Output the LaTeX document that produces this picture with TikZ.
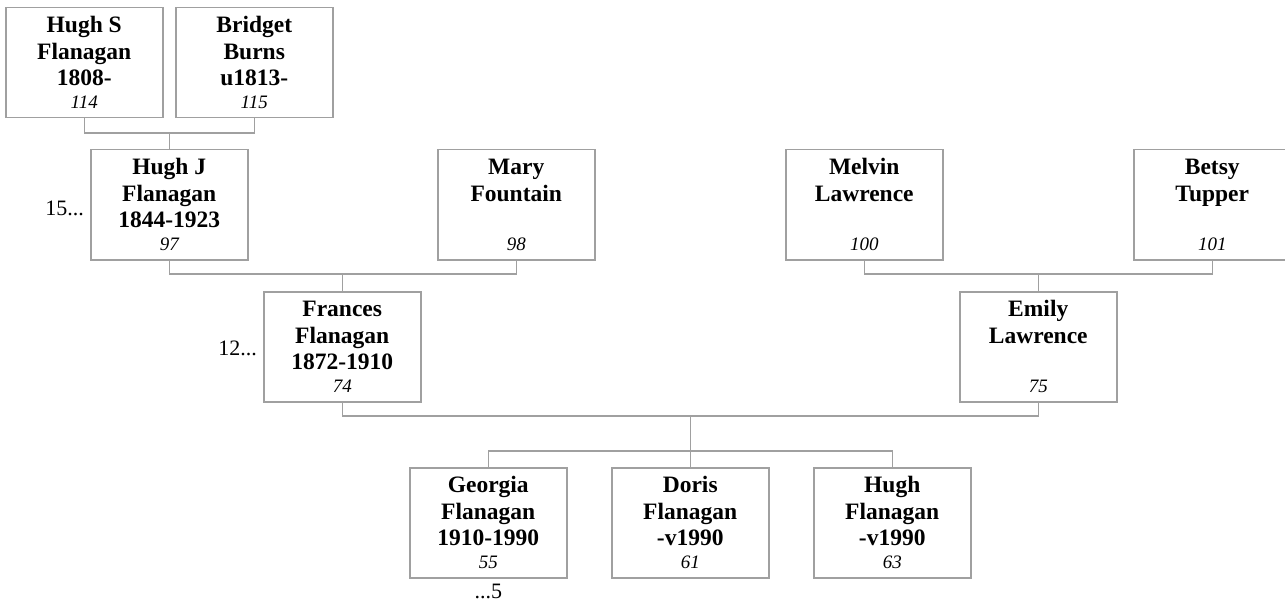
\documentclass[tikz,border=0pt]{standalone}
\usepackage{fontspec}
\setmainfont{Liberation Serif}
\definecolor{lc}{RGB}{160,160,160}
\tikzset{
  person/.style={draw=lc, line width=1.5pt, minimum width=157pt, minimum height=110pt,
    inner sep=0pt, align=center, anchor=north west,
    font=\fontsize{23.5}{26.5}\selectfont\bfseries},
  link/.style={draw=lc, line width=1.5pt},
  side/.style={font=\fontsize{22}{26}\selectfont, inner sep=0pt},
}
\newcommand{\pinfo}[4]{\rule{0pt}{18pt}#1\\#2\\#3\\[-3.5pt]{\fontsize{19}{23}\selectfont\mdseries\itshape #4}\rule[-2pt]{0pt}{2pt}}
\begin{document}
\begin{tikzpicture}[x=1pt,y=-1pt]
\useasboundingbox (0,0) rectangle (1285,604);
\clip (0,0) rectangle (1285,604);
% people
\node[person] (hs) at (5,7) {\pinfo{Hugh S}{Flanagan}{1808-}{114}};
\node[person] (bb) at (175,7) {\pinfo{Bridget}{Burns}{u1813-}{115}};
\node[person] (hj) at (90,149) {\pinfo{Hugh J}{Flanagan}{1844-1923}{97}};
\node[person] (mf) at (437,149) {\pinfo{Mary}{Fountain}{}{98}};
\node[person] (ml) at (785,149) {\pinfo{Melvin}{Lawrence}{}{100}};
\node[person] (bt) at (1133,149) {\pinfo{Betsy}{Tupper}{}{101}};
\node[person] (fr) at (263,291) {\pinfo{Frances}{Flanagan}{1872-1910}{74}};
\node[person] (el) at (959,291) {\pinfo{Emily}{Lawrence}{}{75}};
\node[person] (gf) at (409,467) {\pinfo{Georgia}{Flanagan}{1910-1990}{55}};
\node[person] (df) at (611,467) {\pinfo{Doris}{Flanagan}{-v1990}{61}};
\node[person] (hf) at (813,467) {\pinfo{Hugh}{Flanagan}{-v1990}{63}};
% side labels
\node[side, anchor=base east] (l15) at (84,216) {15...};
\node[side, anchor=base east] (l12) at (257,355) {12...};
\node[side, anchor=base] (l5) at (gf.south |- 0,598) {...5};
% connectors
\coordinate (b1) at (hj.north |- 0,133);
\draw[link] (hs.south) |- (b1) -| (bb.south);
\draw[link] (b1) -- (hj.north);
\coordinate (b2) at (fr.north |- 0,274);
\draw[link] (hj.south) |- (b2) -| (mf.south);
\draw[link] (b2) -- (fr.north);
\coordinate (b3) at (el.north |- 0,274);
\draw[link] (ml.south) |- (b3) -| (bt.south);
\draw[link] (b3) -- (el.north);
\coordinate (b4) at (df.north |- 0,416);
\draw[link] (fr.south) |- (b4) -| (el.south);
\coordinate (b5) at (df.north |- 0,451);
\draw[link] (b4) -- (df.north);
\draw[link] (gf.north) |- (b5) -| (hf.north);
\end{tikzpicture}
\end{document}
